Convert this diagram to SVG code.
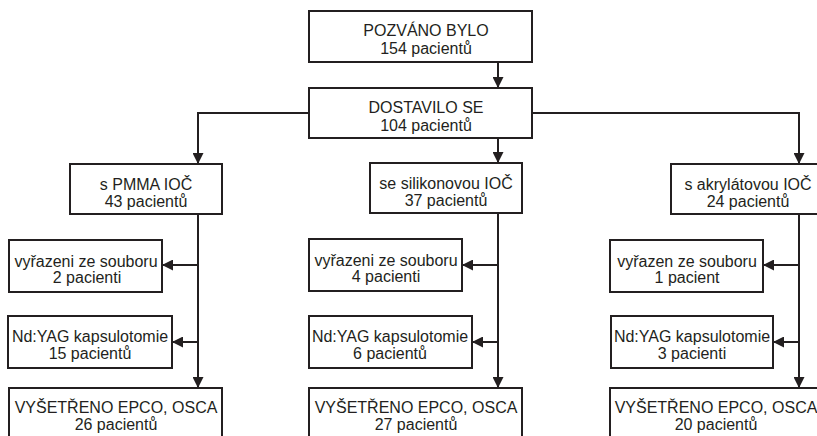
<svg xmlns="http://www.w3.org/2000/svg" width="817" height="436" viewBox="0 0 817 436">
<style>
.box{fill:#fff;stroke:#231f20;stroke-width:2}
.t{font-family:"Liberation Sans",Arial,sans-serif;font-size:16px;fill:#231f20;text-anchor:middle}
.c{fill:none;stroke:#231f20;stroke-width:2}
</style>
<defs>
<marker id="ah" viewBox="0 0 10 10" refX="10" refY="5" markerWidth="11" markerHeight="11" markerUnits="userSpaceOnUse" orient="auto">
<path d="M0,0 L10,5 L0,10 z" fill="#231f20"/>
</marker>
</defs>
<rect width="817" height="436" fill="#fff"/>
<g id="connectors">
<line class="c" x1="498" y1="62" x2="498" y2="88" marker-end="url(#ah)"/>
<polyline class="c" points="309,113 198,113 198,164" marker-end="url(#ah)"/>
<polyline class="c" points="532,113 799,113 799,164" marker-end="url(#ah)"/>
<line class="c" x1="498" y1="138" x2="498" y2="163" marker-end="url(#ah)"/>
<line class="c" x1="198" y1="214" x2="198" y2="388" marker-end="url(#ah)"/>
<line class="c" x1="498" y1="213" x2="498" y2="388" marker-end="url(#ah)"/>
<line class="c" x1="799" y1="214" x2="799" y2="388" marker-end="url(#ah)"/>
<line class="c" x1="198" y1="265" x2="162" y2="265" marker-end="url(#ah)"/>
<line class="c" x1="498" y1="265" x2="462" y2="265" marker-end="url(#ah)"/>
<line class="c" x1="799" y1="265" x2="763" y2="265" marker-end="url(#ah)"/>
<line class="c" x1="198" y1="342" x2="172" y2="342" marker-end="url(#ah)"/>
<line class="c" x1="498" y1="342" x2="472" y2="342" marker-end="url(#ah)"/>
<line class="c" x1="799" y1="342" x2="773" y2="342" marker-end="url(#ah)"/>
</g>
<g id="pozvano"><rect class="box" x="309" y="11" width="223" height="51"/><text class="t" x="426" y="36">POZVÁNO BYLO</text><text class="t" x="426" y="54">154 pacientů</text></g>
<g id="dostavilo"><rect class="box" x="309" y="88" width="223" height="50"/><text class="t" x="426" y="113">DOSTAVILO SE</text><text class="t" x="426" y="131">104 pacientů</text></g>
<g id="pmma"><rect class="box" x="70" y="164" width="152" height="50"/><text class="t" x="146" y="190">s PMMA IOČ</text><text class="t" x="146" y="207">43 pacientů</text></g>
<g id="silikon"><rect class="box" x="370" y="163" width="152" height="50"/><text class="t" x="446" y="189">se silikonovou IOČ</text><text class="t" x="446" y="206">37 pacientů</text></g>
<g id="akryl"><rect class="box" x="671" y="164" width="152" height="50"/><text class="t" x="748" y="190">s akrylátovou IOČ</text><text class="t" x="748" y="207">24 pacientů</text></g>
<g id="vyr1"><rect class="box" x="9" y="240" width="153" height="52"/><text class="t" x="86" y="267">vyřazeni ze souboru</text><text class="t" x="87" y="283">2 pacienti</text></g>
<g id="vyr2"><rect class="box" x="309" y="239" width="153" height="52"/><text class="t" x="386" y="266">vyřazeni ze souboru</text><text class="t" x="386" y="282">4 pacienti</text></g>
<g id="vyr3"><rect class="box" x="610" y="240" width="153" height="52"/><text class="t" x="687" y="267">vyřazen ze souboru</text><text class="t" x="687" y="283">1 pacient</text></g>
<g id="yag1"><rect class="box" x="8" y="316" width="164" height="52"/><text class="t" x="90" y="342">Nd:YAG kapsulotomie</text><text class="t" x="90" y="359">15 pacientů</text></g>
<g id="yag2"><rect class="box" x="309" y="316" width="163" height="52"/><text class="t" x="390" y="342">Nd:YAG kapsulotomie</text><text class="t" x="390" y="359">6 pacientů</text></g>
<g id="yag3"><rect class="box" x="611" y="316" width="162" height="52"/><text class="t" x="692" y="342">Nd:YAG kapsulotomie</text><text class="t" x="692" y="359">3 pacienti</text></g>
<g id="vys1"><rect class="box" x="9" y="388" width="213" height="60"/><text class="t" x="116" y="413">VYŠETŘENO EPCO, OSCA</text><text class="t" x="116" y="430">26 pacientů</text></g>
<g id="vys2"><rect class="box" x="309" y="388" width="213" height="60"/><text class="t" x="416" y="413">VYŠETŘENO EPCO, OSCA</text><text class="t" x="416" y="430">27 pacientů</text></g>
<g id="vys3"><rect class="box" x="610" y="388" width="213" height="60"/><text class="t" x="716" y="413">VYŠETŘENO EPCO, OSCA</text><text class="t" x="716" y="430">20 pacientů</text></g>
</svg>
